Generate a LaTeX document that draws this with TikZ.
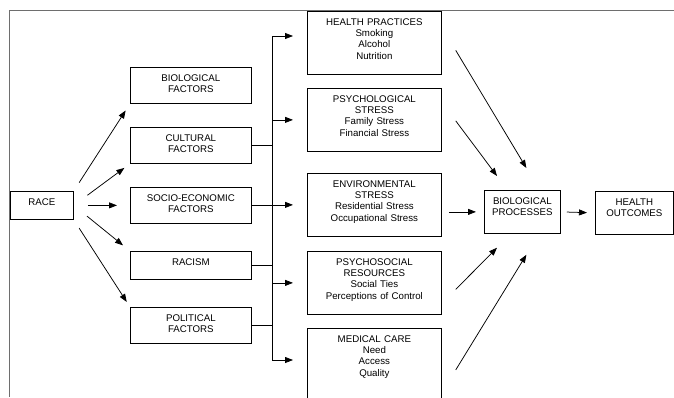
\documentclass[tikz,border=0pt]{standalone}
\usepackage{fontspec}
\setmainfont{Liberation Sans}
\usetikzlibrary{arrows.meta,calc}
\definecolor{framegray}{RGB}{110,110,110}

\begin{document}
\begin{tikzpicture}[x=1pt, y=-1pt, line width=0.75pt, >={Triangle[length=8pt,width=6pt]},
	box/.style={draw, inner sep=0pt, align=center, text height=14pt, font=\fontsize{9.7}{11.3}\selectfont},
	factor/.style={box, text width=121pt, text depth=22pt},
	pathway/.style={box, text width=134pt, text depth=49pt},
	process/.style={box, text width=76pt, text depth=29pt}
]
\useasboundingbox (0,0) rectangle (674,397);
\clip (0,0) rectangle (674,397);

% frame of the page
\draw[framegray, line width=1pt] (674,10) -- (9,10) -- (9,397);

\node [box, text width=63pt, text depth=14pt, anchor=north west] (race) at (10,191) {RACE};

\node [factor, anchor=north west] (bio) at (130,67) {BIOLOGICAL\\ FACTORS};
\node [factor, anchor=north west] (cult) at (130,127) {CULTURAL\\ FACTORS};
\node [factor, anchor=north west] (socio) at (130,187) {SOCIO-ECONOMIC\\ FACTORS};
\node [factor, text depth=14pt, anchor=north west] (racism) at (130,251) {RACISM};
\node [factor, anchor=north west] (polit) at (130,307) {POLITICAL\\ FACTORS};

\node [pathway, anchor=north west] (hp) at (307,11) {HEALTH PRACTICES\\ Smoking\\ Alcohol\\ Nutrition};
\node [pathway, anchor=north west] (ps) at (307,88) {PSYCHOLOGICAL\\ STRESS\\ Family Stress\\ Financial Stress};
\node [pathway, anchor=north west] (env) at (307,173) {ENVIRONMENTAL\\ STRESS\\ Residential Stress\\ Occupational Stress};
\node [pathway, anchor=north west] (psr) at (307,251) {PSYCHOSOCIAL\\ RESOURCES\\ Social Ties\\ Perceptions of Control};
\node [pathway, text depth=71pt, anchor=north west] (med) at (307,328) {MEDICAL CARE\\ Need\\ Access\\ Quality};

\node [process, anchor=north west] (bp) at (484,190) {BIOLOGICAL\\ PROCESSES};
\node [process, text width=78pt, anchor=north west] (ho) at (595,191) {HEALTH\\ OUTCOMES};

% race to the factors
\draw [->, shorten <=10pt, shorten >=8pt] (race.north east) -- (bio.south west);
\draw [->, shorten <=17pt, shorten >=7pt] (race.east) -- (cult.south west);
\draw [->, shorten <=14pt, shorten >=13pt] (race.east) -- (socio.west);
\draw [->, shorten <=17pt, shorten >=9pt] (race.east) -- (racism.north west);
\draw [->, shorten <=10pt, shorten >=6pt] (race.south east) -- (polit.north west);

% factors into the bus
\coordinate (bus) at (272,36);
\coordinate (busend) at (272,360);
\draw (bus) -- (busend);
\draw (cult.east) -- (cult.east -| bus);
\draw (socio.east) -- (socio.east -| bus);
\draw (racism.east) -- (racism.east -| bus);
\draw (polit.east) -- (polit.east -| bus);

\draw [->, shorten >=14pt] (bus) -- (bus -| hp.west);
\foreach \n in {ps,env,psr}
	\draw [->, shorten >=14pt] (\n.west -| bus) -- (\n.west);
\draw [->, shorten >=14pt] (busend) -- (busend -| med.west);

% pathways to biological processes
\coordinate (hpout) at ($(hp.east)+(14,7.5)$);
\coordinate (psout) at ($(ps.east)+(14,1)$);
\coordinate (psrout) at ($(psr.east)+(14,6.5)$);
\coordinate (medout) at ($(med.east)+(14,-1)$);
\coordinate (bpin1) at ($(bp.north)+(4,-22)$);
\coordinate (bpin2) at ($(bp.north west)+(13,-14)$);
\coordinate (bpin4) at ($(bp.south west)+(13,14)$);
\coordinate (bpin5) at ($(bp.south)+(4,21)$);
\draw [->] (hpout) -- (bpin1);
\draw [->] (psout) -- (bpin2);
\draw [->, shorten <=7pt, shorten >=8pt] (env.east |- bp.west) -- (bp.west);
\draw [->] (psrout) -- (bpin4);
\draw [->] (medout) -- (bpin5);

\draw [->, shorten <=6pt, shorten >=8pt] (bp.east) -- (ho.west);
\end{tikzpicture}
\end{document}
